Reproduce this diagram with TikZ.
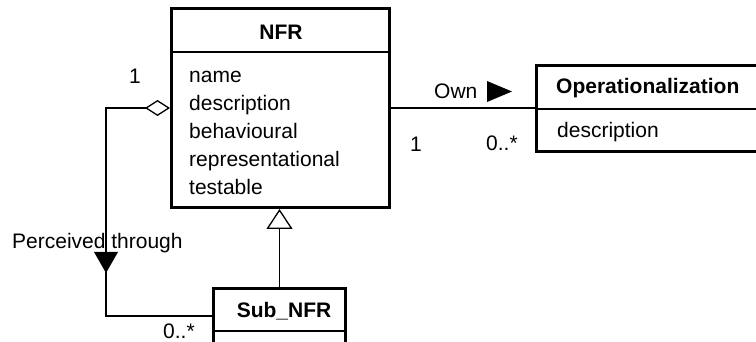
\documentclass[tikz,border=0pt]{standalone}
\usepackage{fontspec}
\setmainfont{Liberation Sans}
\usetikzlibrary{arrows.meta}

\tikzset{
    classbox/.style={draw, line width=3pt, inner sep=0pt},
    txt/.style={inner sep=0pt, font=\fontsize{21}{25}\selectfont},
    ctitle/.style={inner sep=0pt, font=\fontsize{21}{25}\selectfont\bfseries},
    conn/.style={line width=1.3pt},
    aggregation/.style={conn, {Diamond[open, length=25pt, width=16pt]}-},
    generalization/.style={conn, -{Triangle[open, length=20pt, width=26pt, fill=white]}}
}

\begin{document}
\begin{tikzpicture}[x=1pt,y=-1pt]
            \clip (0,0) rectangle (756,342);

            % draw the classes
            \node[classbox, minimum width=218pt, minimum height=199pt] (nfr) at (280.5,108) {};
            \node[classbox, minimum width=263.5pt, minimum height=86pt] (op) at (668.25,108.5) {};
            \node[classbox, minimum width=132pt, minimum height=91.5pt] (sub) at (279.5,334.25) {};

            % separators
            \draw[line width=1.1pt] (nfr.west |- 0,52) -- (nfr.east |- 0,52);
            \draw[line width=1.1pt] (op.west |- 0,109) -- (op.east |- 0,109);
            \draw[line width=1.1pt] (sub.west |- 0,331) -- (sub.east |- 0,331);

            % class names
            \node[ctitle, anchor=base] (nfrname) at (281,40) {NFR};
            \node[ctitle, anchor=base west] (opname) at (556,94) {Operationalization};
            \node[ctitle, anchor=base] (subname) at (284,317) {Sub\_NFR};

            % attributes
            \node[txt, anchor=base west] (a1) at (189,83) {name};
            \node[txt, anchor=base west] (a2) at (189,111) {description};
            \node[txt, anchor=base west] (a3) at (189,139) {behavioural};
            \node[txt, anchor=base west] (a4) at (189,167) {representational};
            \node[txt, anchor=base west] (a5) at (189,195) {testable};
            \node[txt, anchor=base west] (b1) at (557,138) {description};

            %own
            \draw[conn] (nfr.east) -- (nfr.east -| op.west);
            \fill (487,81) -- (487,102) -- (512,91.5) -- cycle;

            %perceived through
            \coordinate (bend) at (106,316);
            \draw[aggregation] (nfr.west) -| (bend) -- (bend -| sub.west);
            \fill (94,252) -- (118,252) -- (106,273) -- cycle;

            %generalization
            \draw[generalization] (sub.north) -- (sub.north |- nfr.south);

            % text at the ends
            \node[txt, anchor=base west] (m1) at (129,84) {1};
            \node[txt, anchor=base west] (m2) at (163,338) {0..*};
            \node[txt, anchor=base west] (m3) at (410,152) {1};
            \node[txt, anchor=base west] (m4) at (486,151) {0..*};
            \node[txt, anchor=base west] (own) at (434,99) {Own};
            \node[txt, anchor=base west] (perc) at (12,248) {Perceived through};
        \end{tikzpicture}
\end{document}
